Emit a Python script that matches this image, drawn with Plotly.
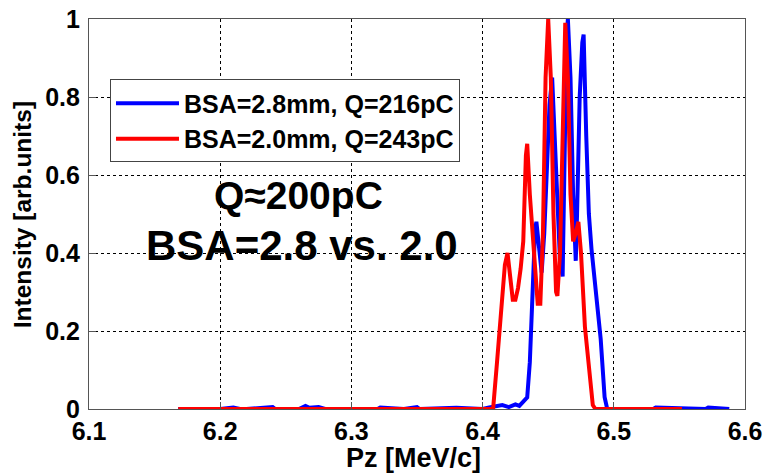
import plotly.graph_objects as go

# Blue: BSA=2.8mm, Q=216pC
blue_x = [6.168, 6.200, 6.210, 6.215, 6.220, 6.240, 6.242, 6.260, 6.265, 6.268, 6.275, 6.280,
          6.300, 6.320, 6.322, 6.340, 6.350, 6.352, 6.380, 6.400, 6.405, 6.410, 6.415, 6.420,
          6.425, 6.428, 6.431, 6.434, 6.436, 6.438, 6.440, 6.441, 6.443, 6.445, 6.447, 6.449,
          6.451, 6.453, 6.455, 6.457, 6.459, 6.461, 6.462, 6.464, 6.465, 6.467, 6.469, 6.471,
          6.472, 6.474, 6.476, 6.477, 6.479, 6.481, 6.483, 6.486, 6.490, 6.493, 6.495, 6.510,
          6.530, 6.532, 6.560, 6.570, 6.572, 6.588]
blue_y = [0.0, 0.0, 0.004, 0.0, 0.0, 0.005, 0.0, 0.0, 0.008, 0.003, 0.005, 0.0,
          0.0, 0.0, 0.004, 0.0, 0.005, 0.0, 0.003, 0.0, 0.004, 0.006, 0.010, 0.005,
          0.012, 0.008, 0.018, 0.030, 0.12, 0.30, 0.46, 0.48, 0.40, 0.35, 0.45, 0.62,
          0.78, 0.85, 0.70, 0.50, 0.38, 0.34, 0.55, 0.95, 1.00, 0.85, 0.55, 0.38,
          0.50, 0.80, 0.94, 0.96, 0.70, 0.50, 0.41, 0.30, 0.18, 0.03, 0.0, 0.0,
          0.0, 0.004, 0.0, 0.0, 0.004, 0.0]

# Red: BSA=2.0mm, Q=243pC
red_x = [6.168, 6.300, 6.405, 6.408, 6.411, 6.414, 6.417, 6.419, 6.421, 6.423, 6.425, 6.427,
         6.429, 6.431, 6.433, 6.434, 6.436, 6.438, 6.440, 6.442, 6.444, 6.446, 6.448, 6.450,
         6.452, 6.454, 6.456, 6.457, 6.459, 6.461, 6.463, 6.465, 6.467, 6.469, 6.471, 6.473,
         6.475, 6.478, 6.481, 6.484, 6.486, 6.552]
red_y = [0.0, 0.0, 0.0, 0.0, 0.12, 0.25, 0.37, 0.40, 0.33, 0.28, 0.28, 0.31,
         0.36, 0.43, 0.65, 0.68, 0.55, 0.45, 0.35, 0.27, 0.27, 0.45, 0.85, 1.00,
         0.85, 0.50, 0.30, 0.29, 0.40, 0.75, 0.99, 0.85, 0.55, 0.43, 0.45, 0.48,
         0.40, 0.21, 0.10, 0.01, 0.0, 0.0]

x_ticks = [6.1, 6.2, 6.3, 6.4, 6.5, 6.6]
y_ticks = [0, 0.2, 0.4, 0.6, 0.8, 1.0]
y_tick_labels = ["0", "0.2", "0.4", "0.6", "0.8", "1"]

FONT = "Arial, 'Liberation Sans', sans-serif"

fig = go.Figure()
fig.add_trace(go.Scatter(x=blue_x, y=blue_y, mode="lines", name="BSA=2.8mm, Q=216pC",
                         line=dict(color="#0000ff", width=4)))
fig.add_trace(go.Scatter(x=red_x, y=red_y, mode="lines", name="BSA=2.0mm, Q=243pC",
                         line=dict(color="#ff0000", width=4)))

axis_common = dict(showline=True, mirror=True, linecolor="#555555", linewidth=1.2,
                   showgrid=True, gridcolor="#000000", gridwidth=1, griddash="3px,3px",
                   ticks="inside", ticklen=7, tickcolor="#555555", zeroline=False,
                   automargin=False, ticklabeloverflow="allow",
                   tickfont=dict(family=FONT, size=25, color="black", weight="bold"))

fig.update_xaxes(range=[6.1, 6.6], tickvals=x_ticks, ticktext=[f"{v:.1f}" for v in x_ticks],
                 ticklabelstandoff=0, **axis_common)
fig.update_yaxes(range=[0, 1], tickvals=y_ticks, ticktext=y_tick_labels,
                 ticklabelstandoff=3, **axis_common)

# axis titles as paper annotations
fig.add_annotation(x=0.494, y=-0.126, xref="paper", yref="paper", text="<b>Pz [MeV/c]</b>",
                   showarrow=False, xanchor="center", yanchor="middle",
                   font=dict(family=FONT, size=27, color="black"))
fig.add_annotation(x=-0.102, y=0.497, xref="paper", yref="paper", text="<b>Intensity [arb.units]</b>",
                   showarrow=False, textangle=-90, xanchor="center", yanchor="middle",
                   font=dict(family=FONT, size=24.5, color="black"))

fig.add_annotation(x=6.260, y=0.548, xref="x", yref="y", text="<b>Q≈200pC</b>", showarrow=False,
                   font=dict(family=FONT, size=39, color="black"))
fig.add_annotation(x=6.262, y=0.418, xref="x", yref="y", text="<b>BSA=2.8 vs. 2.0</b>", showarrow=False,
                   font=dict(family=FONT, size=42, color="black"))

fig.update_layout(
    width=763, height=473,
    margin=dict(l=89, r=18, t=19, b=64),
    plot_bgcolor="white", paper_bgcolor="white",
    legend=dict(x=0.032, y=0.845, xanchor="left", yanchor="top",
                bgcolor="white", bordercolor="#444444", borderwidth=1,
                font=dict(family=FONT, size=25, color="black", weight="bold"),
                itemwidth=63, tracegroupgap=0),
    showlegend=True,
)

fig.write_html("out.html")
